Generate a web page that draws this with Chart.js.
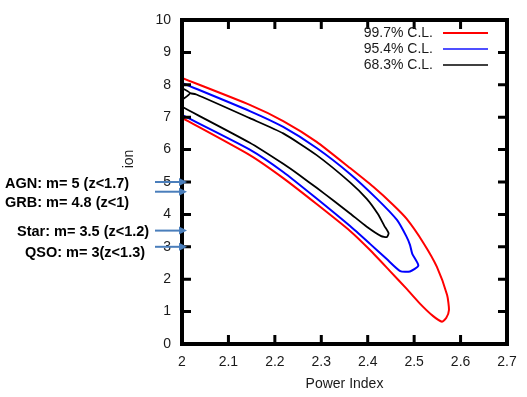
<!DOCTYPE html>
<html>
<head>
<meta charset="utf-8">
<script src="https://cdn.jsdelivr.net/npm/chart.js@4/dist/chart.umd.min.js"></script>
<style>
  html, body { margin: 0; padding: 0; background: #fff; }
  #wrap { width: 527px; height: 397px; }
</style>
</head>
<body>
<div id="wrap"><canvas id="myChart" width="527" height="397"></canvas></div>
<script>
// contour levels
const levels = ["99.7% C.L.", "95.4% C.L.", "68.3% C.L."];
const levelColors = ["#ff0000", "#0000ff", "#000000"];
const legendColors = ["#ff0000", "#4f4fff", "#000000"];

// 99.7% contour (upper edge out, lower edge back)
const redX = [2.0, 2.146, 2.218, 2.290, 2.362, 2.412, 2.455, 2.484, 2.520, 2.549, 2.571, 2.575, 2.569, 2.560,
  2.541, 2.513, 2.484, 2.448, 2.405, 2.362, 2.290, 2.218, 2.146, 2.0];
const redY = [8.21, 7.38, 6.88, 6.24, 5.43, 4.85, 4.29, 3.86, 3.12, 2.38, 1.51, 1.05, 0.80, 0.69,
  0.86, 1.24, 1.70, 2.25, 2.90, 3.49, 4.32, 5.12, 5.83, 6.98];

// 95.4% contour
const blueX = [2.0, 2.146, 2.218, 2.290, 2.362, 2.420, 2.463, 2.483, 2.491, 2.496, 2.509,
  2.491, 2.470, 2.441, 2.405, 2.362, 2.290, 2.218, 2.146, 2.0];
const blueY = [8.06, 7.19, 6.70, 6.05, 5.25, 4.48, 3.83, 3.33, 3.06, 2.78, 2.42,
  2.24, 2.25, 2.62, 3.09, 3.64, 4.49, 5.31, 6.00, 7.07];

// 68.3% contour
const blackX = [2.017, 2.031, 2.146, 2.218, 2.290, 2.362, 2.398, 2.422, 2.436, 2.445, 2.441, 2.429,
  2.398, 2.362, 2.326, 2.290, 2.254, 2.218, 2.146, 2.0];
const blackY = [7.74, 7.70, 6.97, 6.50, 5.83, 4.99, 4.48, 4.01, 3.64, 3.42, 3.30, 3.33,
  3.62, 4.03, 4.43, 4.82, 5.20, 5.56, 6.21, 7.32];
const blackLoopX = [2.0, 2.017, 2.0];
const blackLoopY = [7.90, 7.74, 7.53];

// source labels on the left and where their arrows point
const sourceLabels = ["AGN: m= 5 (z<1.7)", "GRB: m= 4.8 (z<1)", "Star: m= 3.5 (z<1.2)", "QSO: m= 3(z<1.3)"];
const arrowY = [5.0, 4.7, 3.5, 3.0];

const xTicks = [2, 2.1, 2.2, 2.3, 2.4, 2.5, 2.6, 2.7];
const yTicks = [0, 1, 2, 3, 4, 5, 6, 7, 8, 9, 10];

function pts(xs, ys) {
  return xs.map((x, i) => ({ x: x, y: ys[i] }));
}

const FONT = "'Liberation Sans', Arial, sans-serif";

const framePlugin = {
  id: "frame",
  afterDraw(chart) {
    const ctx = chart.ctx;
    const a = chart.chartArea;
    const xs = chart.scales.x, ys = chart.scales.y;
    ctx.save();
    // inner ticks
    ctx.strokeStyle = "#000";
    ctx.lineWidth = 3;
    ctx.beginPath();
    xTicks.slice(1, -1).forEach((v) => {
      const px = xs.getPixelForValue(v);
      ctx.moveTo(px, a.bottom); ctx.lineTo(px, a.bottom - 9);
      ctx.moveTo(px, a.top); ctx.lineTo(px, a.top + 9);
    });
    yTicks.slice(1, -1).forEach((v) => {
      const py = ys.getPixelForValue(v);
      ctx.moveTo(a.left, py); ctx.lineTo(a.left + 9, py);
      ctx.moveTo(a.right, py); ctx.lineTo(a.right - 9, py);
    });
    ctx.stroke();
    // frame
    ctx.lineWidth = 4;
    ctx.strokeRect(a.left, a.top, a.right - a.left, a.bottom - a.top);

    // legend, text left of the sample line
    ctx.font = "14px " + FONT;
    ctx.textAlign = "right";
    ctx.textBaseline = "middle";
    const rowY = [33, 49, 65];
    levels.forEach((lab, i) => {
      ctx.fillStyle = "#1a1a1a";
      ctx.fillText(lab, 433, rowY[i]);
      ctx.strokeStyle = legendColors[i];
      ctx.lineWidth = i === 2 ? 1.5 : 2;
      ctx.beginPath();
      ctx.moveTo(443, rowY[i]); ctx.lineTo(488, rowY[i]);
      ctx.stroke();
    });

    // partial y title
    ctx.save();
    ctx.translate(129, 159);
    ctx.rotate(-Math.PI / 2);
    ctx.textAlign = "center";
    ctx.fillStyle = "#1a1a1a";
    ctx.font = "14px " + FONT;
    ctx.fillText("ion", 0, 0);
    ctx.restore();

    // source labels
    ctx.font = "bold 14.5px " + FONT;
    ctx.textAlign = "left";
    ctx.fillStyle = "#000";
    const textX = [5, 5, 17, 25];
    const textY = [184, 203, 232, 253];
    sourceLabels.forEach((t, i) => ctx.fillText(t, textX[i], textY[i]));

    // arrows
    ctx.strokeStyle = "#4a7ebb";
    ctx.fillStyle = "#4a7ebb";
    ctx.lineWidth = 2;
    arrowY.forEach((v) => {
      const py = ys.getPixelForValue(v);
      ctx.beginPath();
      ctx.moveTo(155, py); ctx.lineTo(180, py);
      ctx.stroke();
      ctx.beginPath();
      ctx.moveTo(187, py); ctx.lineTo(179, py - 4); ctx.lineTo(179, py + 4);
      ctx.closePath();
      ctx.fill();
    });
    ctx.restore();
  }
};

new Chart("myChart", {
  type: "scatter",
  data: {
    datasets: [
      { label: levels[0], data: pts(redX, redY), borderColor: levelColors[0], borderWidth: 2 },
      { label: levels[1], data: pts(blueX, blueY), borderColor: levelColors[1], borderWidth: 2 },
      { label: levels[2], data: pts(blackX, blackY), borderColor: levelColors[2], borderWidth: 1.8 },
      { label: "", data: pts(blackLoopX, blackLoopY), borderColor: levelColors[2], borderWidth: 1.8 },
    ].map((d) => Object.assign(d, { showLine: true, pointRadius: 0, tension: 0.2, fill: false })),
  },
  options: {
    responsive: false,
    animation: false,
    layout: { padding: { top: 20, right: 20, left: 0, bottom: 0 } },
    plugins: { legend: { display: false }, tooltip: { enabled: false } },
    scales: {
      x: {
        type: "linear", min: 2, max: 2.7,
        afterBuildTicks: (s) => { s.ticks = xTicks.map((v) => ({ value: v })); },
        afterFit: (s) => { s.height = 53; },
        grid: { display: false },
        border: { display: false },
        ticks: { color: "#1a1a1a", font: { family: FONT, size: 14 }, padding: 2, maxRotation: 0,
          callback: (v) => String(v) },
        title: { display: true, text: "Power Index", color: "#1a1a1a",
          font: { family: FONT, size: 14 }, padding: { top: 0, bottom: 4 } },
      },
      y: {
        type: "linear", min: 0, max: 10,
        afterBuildTicks: (s) => { s.ticks = yTicks.map((v) => ({ value: v })); },
        afterFit: (s) => { s.width = 182; },
        grid: { display: false },
        border: { display: false },
        ticks: { color: "#1a1a1a", font: { family: FONT, size: 14 }, padding: 3 },
      },
    },
  },
  plugins: [framePlugin],
});
</script>
</body>
</html>
